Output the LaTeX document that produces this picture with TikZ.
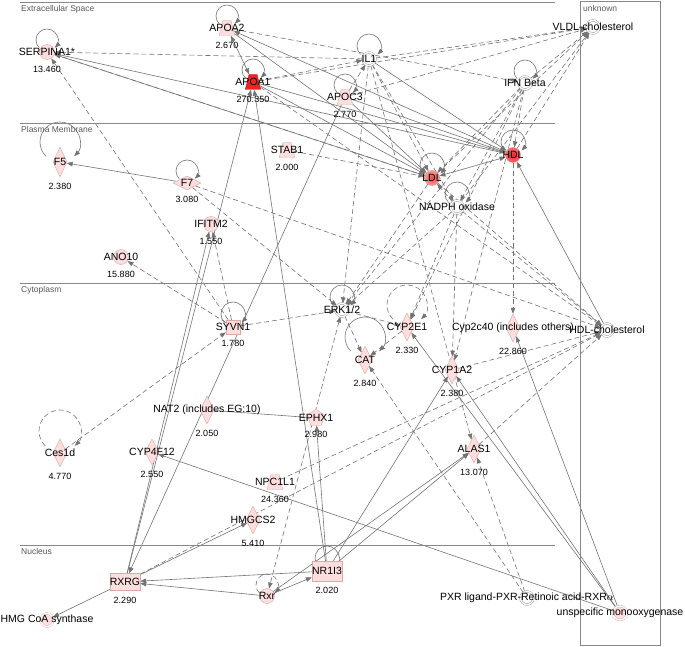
\documentclass[tikz,border=0pt]{standalone}
\usepackage{fontspec}
\setmainfont{Liberation Sans}
\usepackage{tikz}
\usetikzlibrary{calc, shapes.geometric, arrows.meta, backgrounds}
\definecolor{pinkfill}{RGB}{252,222,222}
\definecolor{pinkline}{RGB}{222,168,168}
\definecolor{edgegray}{RGB}{115,115,115}
\definecolor{boxgray}{RGB}{135,135,135}
\definecolor{upred}{RGB}{236,36,36}
% loop above a node: style, node, centre offset, radius
\newcommand{\nodeloop}[4]{\draw[#1,arr] ($(#2)+({-0.707*#4},{#3-0.707*#4})$) arc[start angle=225,end angle=-45,radius=#4];}

\begin{document}
\begin{tikzpicture}[x=1pt,y=1pt,label distance=6pt]
          \tikzstyle{gene}=[draw=pinkline,fill=pinkfill,inner sep=0pt,line width=.4pt]
          \tikzstyle{dvertex}=[gene,diamond,minimum width=14pt,minimum height=28pt,label distance=9pt]
          \tikzstyle{tvertex}=[gene,trapezium,trapezium left angle=76,trapezium right angle=76,inner xsep=4pt,inner ysep=7.5pt,label distance=4pt]
          \tikzstyle{cvertex}=[gene,circle,minimum size=15pt]
          \tikzstyle{rvertex}=[gene,rectangle,minimum width=30pt,minimum height=17pt,label distance=4pt]
          \tikzstyle{xvertex}=[circle,draw=boxgray,double=white,double distance=1.4pt,fill=white,minimum size=13pt,inner sep=0pt]
          \tikzstyle{lbl}=[font=\fontsize{10.5}{12}\selectfont,inner sep=0pt]
          \tikzstyle{val}=[font=\fontsize{9}{11}\selectfont,inner sep=0pt]
          \tikzstyle{comp}=[font=\fontsize{8.5}{10}\selectfont,text=black!65,inner sep=0pt,anchor=north west]
          \tikzstyle{dedge}=[draw=edgegray,line width=.6pt]
          \tikzstyle{iedge}=[dedge,dash pattern=on 5pt off 3pt]
          \tikzstyle{arr}=[-{Triangle[length=6pt,width=4.5pt]}]
          \tikzstyle{arrs}=[{Triangle[length=6pt,width=4.5pt]}-{Triangle[length=6pt,width=4.5pt]}]
          \useasboundingbox (0,0) rectangle (685,-647);
          % compartments
          \draw[boxgray,line width=.8pt] (20,-2) -- (555,-2);
          \draw[boxgray,line width=.8pt] (20,-123) -- (555,-123);
          \draw[boxgray,line width=.8pt] (20,-283) -- (555,-283);
          \draw[boxgray,line width=.8pt] (20,-545) -- (555,-545);
          \draw[boxgray,line width=1pt] (580,-2) rectangle (660,-645);
          \node[comp] (extra) at (21,-5) {Extracellular Space};
          \node[comp] (plasma) at (21,-126) {Plasma Membrane};
          \node[comp] (cyto) at (21,-286) {Cytoplasm};
          \node[comp] (nucl) at (21,-548) {Nucleus};
          \node[comp] (unkn) at (583,-5) {unknown};
          % molecules
          \node[cvertex,label={[lbl]center:SERPINA1*},label={[val]below:13.460}] (serp) at (47,-52) {};
          \node[tvertex,label={[lbl]center:APOA2},label={[val]below:2.670}] (apoa2) at (227,-28) {};
          \node[tvertex,fill=upred,draw=upred!80!black,label={[lbl]center:APOA1},label={[val]below:270.350}] (apoa1) at (253,-82) {};
          \node[xvertex,label={[lbl]center:IL1}] (il1) at (369,-59) {};
          \node[tvertex,label={[lbl]center:APOC3},label={[val]below:2.770}] (apoc3) at (345,-97) {};
          \node[xvertex,label={[lbl]center:VLDL-cholesterol}] (vldl) at (593,-27) {};
          \node[xvertex,label={[lbl]center:IFN Beta}] (ifnb) at (525,-83) {};
          \node[tvertex,label={[lbl]center:STAB1},label={[val]below:2.000}] (stab1) at (287,-150) {};
          \node[circle,draw=upred!60,inner color=upred!85,outer color=upred!35!pinkfill,minimum size=15pt,inner sep=0pt,label={[lbl]center:LDL}] (ldl) at (432,-178) {};
          \node[circle,draw=upred!60,inner color=upred,outer color=upred!60!pinkfill,minimum size=15pt,inner sep=0pt,label={[lbl]center:HDL}] (hdl) at (513,-155) {};
          \node[xvertex,label={[lbl]center:NADPH oxidase}] (nadph) at (457,-207) {};
          \node[dvertex,minimum height=30pt,label={[lbl]center:F5},label={[val]below:2.380}] (f5) at (60,-162) {};
          \node[dvertex,minimum width=28pt,minimum height=14pt,label distance=5pt,label={[lbl]center:F7},label={[val]below:3.080}] (f7) at (187,-183) {};
          \node[cvertex,label={[lbl]center:IFITM2},label={[val]below:1.550}] (ifitm2) at (211,-224) {};
          \node[cvertex,label={[lbl]center:ANO10},label={[val]below:15.880}] (ano10) at (121,-257) {};
          \node[gene,rectangle,minimum size=14pt,label={[lbl]center:SYVN1},label={[val]below:1.780}] (syvn1) at (233,-327) {};
          \node[xvertex,label={[lbl]center:ERK1/2}] (erk) at (342,-310) {};
          \node[dvertex,label={[lbl]center:CYP2E1},label={[val]below:2.330}] (cyp2e1) at (407,-327) {};
          \node[dvertex,label={[lbl]center:CAT},label={[val]below:2.840}] (cat) at (365,-360) {};
          \node[dvertex,label={[lbl]center:CYP1A2},label={[val]below:2.380}] (cyp1a2) at (452,-370) {};
          \node[dvertex,label={[lbl]center:Cyp2c40 (includes others)},label={[val]below:22.860}] (cyp2c40) at (513,-328) {};
          \node[xvertex,label={[lbl]center:HDL-cholesterol}] (hdlc) at (607,-330) {};
          \node[dvertex,label={[lbl]center:NAT2 (includes EG:10)},label={[val]below:2.050}] (nat2) at (207,-410) {};
          \node[gene,regular polygon,regular polygon sides=5,minimum size=18pt,label distance=3pt,label={[lbl]center:EPHX1},label={[val]below:2.980}] (ephx1) at (316,-418) {};
          \node[dvertex,label={[lbl]center:Ces1d},label={[val]below:4.770}] (ces1d) at (60,-453) {};
          \node[dvertex,minimum height=26pt,label distance=7pt,label={[lbl]center:CYP4F12},label={[val]below:2.550}] (cyp4f12) at (152,-452) {};
          \node[tvertex,label={[lbl]center:NPC1L1},label={[val]below:24.360}] (npc1l1) at (275,-482) {};
          \node[dvertex,label={[lbl]center:HMGCS2},label={[val]below:5.410}] (hmgcs2) at (253,-520) {};
          \node[dvertex,label={[lbl]center:ALAS1},label={[val]below:13.070}] (alas1) at (474,-449) {};
          \node[rvertex,label={[lbl]center:RXRG},label={[val]below:2.290}] (rxrg) at (125,-582) {};
          \node[xvertex,fill=pinkfill,draw=pinkline,label={[lbl]center:HMG CoA synthase}] (hmgcoa) at (47,-620) {};
          \node[rvertex,minimum height=20pt,label={[lbl]center:NR1I3},label={[val]below:2.020}] (nr1i3) at (327,-571) {};
          \node[cvertex,label={[lbl]center:Rxr}] (rxr) at (267,-596) {};
          \node[xvertex,label={[lbl]center:PXR ligand-PXR-Retinoic acid-RXR\(\alpha\)}] (pxr) at (527,-598) {};
          \node[xvertex,fill=pinkfill,draw=pinkline,minimum size=14pt,label={[lbl]center:unspecific monooxygenase}] (umo) at (620,-613) {};
          \begin{scope}[on background layer]
          % direct relations
          \foreach \a/\b in {f7/f5,hdl/serp,ldl/serp,hdl/apoa2,apoa2/ldl,apoa1/hdl,apoa1/ldl,
              apoc3/hdl,apoc3/ldl,hdlc/hdl,rxrg/ifitm2,apoc3/rxrg,rxrg/apoa1,nr1i3/apoa1,
              nr1i3/ephx1,umo/cyp4f12,nr1i3/rxrg,rxr/rxrg,rxrg/hmgcoa,rxrg/hmgcs2,nr1i3/alas1,
              rxr/alas1,nr1i3/cyp1a2,rxr/nr1i3,umo/cyp2e1,umo/cyp1a2,umo/cyp2c40,il1/hdl}
            \draw[dedge,arr] (\a) -- (\b);
          \draw[dedge,arrs] (apoa2) -- (apoa1);
          \draw[dedge,arrs] (ldl) -- (hdl);
          \draw[dedge] (nat2) -- (ephx1);
          % indirect relations
          \foreach \a/\b in {il1/serp,ldl/serp,syvn1/serp,f7/erk,f7/hdlc,apoa1/il1,apoc3/il1,
              apoa1/vldl,apoc3/vldl,apoa2/ifnb,hdl/vldl,ifnb/vldl,ldl/vldl,nadph/vldl,il1/vldl,
              il1/ldl,il1/erk,il1/nadph,il1/alas1,ifnb/ldl,ifnb/hdl,ifnb/erk,ifnb/cyp1a2,
              ifnb/nadph,ifnb/cyp2e1,nadph/ldl,nadph/hdlc,nadph/cyp2e1,nadph/cyp1a2,nadph/erk,
              ldl/erk,ldl/hdlc,apoa1/hdlc,stab1/ldl,erk/cat,erk/cyp2e1,syvn1/erk,
              syvn1/ano10,syvn1/ifitm2,ces1d/syvn1,cyp2e1/cat,pxr/cat,pxr/alas1,hdl/cyp2c40,
              cyp1a2/hdlc,alas1/hdlc,rxrg/hdlc,npc1l1/hdlc}
            \draw[iedge,arr] (\a) -- (\b);
          \draw[iedge,arrs] (erk) -- (rxr);
          % self loops
          \foreach \v in {serp,apoa2,apoa1,apoc3,f7,ifnb}{
            \nodeloop{dedge}{\v}{12}{11}
            }
          \foreach \v in {il1,ldl,hdl,nadph,erk,syvn1,nr1i3}{
            \nodeloop{dedge}{\v}{13}{12}
            }
          \nodeloop{dedge}{f5}{20}{20}
          \nodeloop{dedge}{cat}{23}{20}
          \nodeloop{iedge}{cyp2e1}{22}{20}
          \nodeloop{iedge}{ces1d}{22}{21}
          \nodeloop{iedge}{rxr}{11}{11}
          \end{scope}
        \end{tikzpicture}
\end{document}
